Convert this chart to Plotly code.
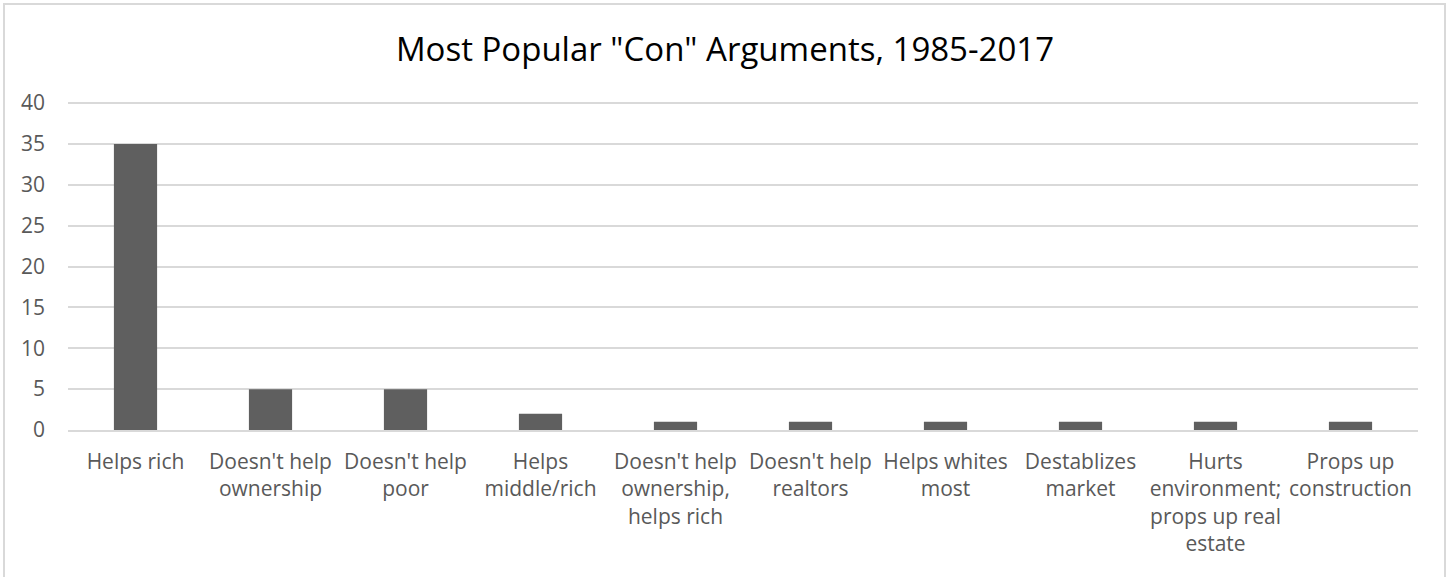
import plotly.graph_objects as go

categories = [
    "Helps rich",
    "Doesn't help<br>ownership",
    "Doesn't help<br>poor",
    "Helps<br>middle/rich",
    "Doesn't help<br>ownership,<br>helps rich",
    "Doesn't help<br>realtors",
    "Helps whites<br>most",
    "Destablizes<br>market",
    "Hurts<br>environment;<br>props up real<br>estate",
    "Props up<br>construction",
]
values = [35, 5, 5, 2, 1, 1, 1, 1, 1, 1]
y_ticks = [0, 5, 10, 15, 20, 25, 30, 35, 40]

W, H = 1450, 577
L, R, T, B = 68, 32, 101, 147
pw, ph = W - L - R, H - T - B
y_top = 40 * ph / (ph - 2)  # leave a hair above the 40 gridline so it is drawn

fig = go.Figure(
    go.Bar(x=categories, y=values, marker=dict(color="#5f5f5f", line=dict(width=0)))
)

def px_x(x):
    return (x - L) / pw

def px_y(y):
    return (H - B - y) / ph

fig.add_shape(
    type="rect", xref="paper", yref="paper",
    x0=px_x(4), x1=px_x(1445), y0=px_y(600), y1=px_y(4),
    line=dict(color="#d9d9d9", width=2), fillcolor="rgba(0,0,0,0)", layer="below",
)

fig.update_layout(
    width=W, height=H,
    margin=dict(l=L, r=R, t=T, b=B, autoexpand=False),
    paper_bgcolor="white", plot_bgcolor="white",
    bargap=0.68,
    showlegend=False,
    font=dict(family="Open Sans", color="#595959", size=21),
    title=dict(
        text='Most Popular "Con" Arguments, 1985-2017',
        x=0.5, xanchor="center", xref="container",
        y=1 - 49 / H, yanchor="middle", yref="container",
        font=dict(family="Open Sans", size=33, color="#000000"),
    ),
    xaxis=dict(
        showgrid=False, showline=True, linecolor="#d9d9d9", linewidth=1.5,
        ticks="", tickangle=0, ticklabelstandoff=12,
        tickfont=dict(size=21, color="#595959"),
    ),
    yaxis=dict(
        range=[0, y_top], tickvals=y_ticks, showgrid=True, gridcolor="#d9d9d9", gridwidth=1.5,
        zeroline=False, showline=False, ticks="", ticklabelstandoff=22,
        tickfont=dict(size=21, color="#595959"),
    ),
)

fig.write_html(
    "out.html",
    config={"displayModeBar": False},
    post_script="document.body.style.margin='0';document.body.style.overflow='hidden';",
)
